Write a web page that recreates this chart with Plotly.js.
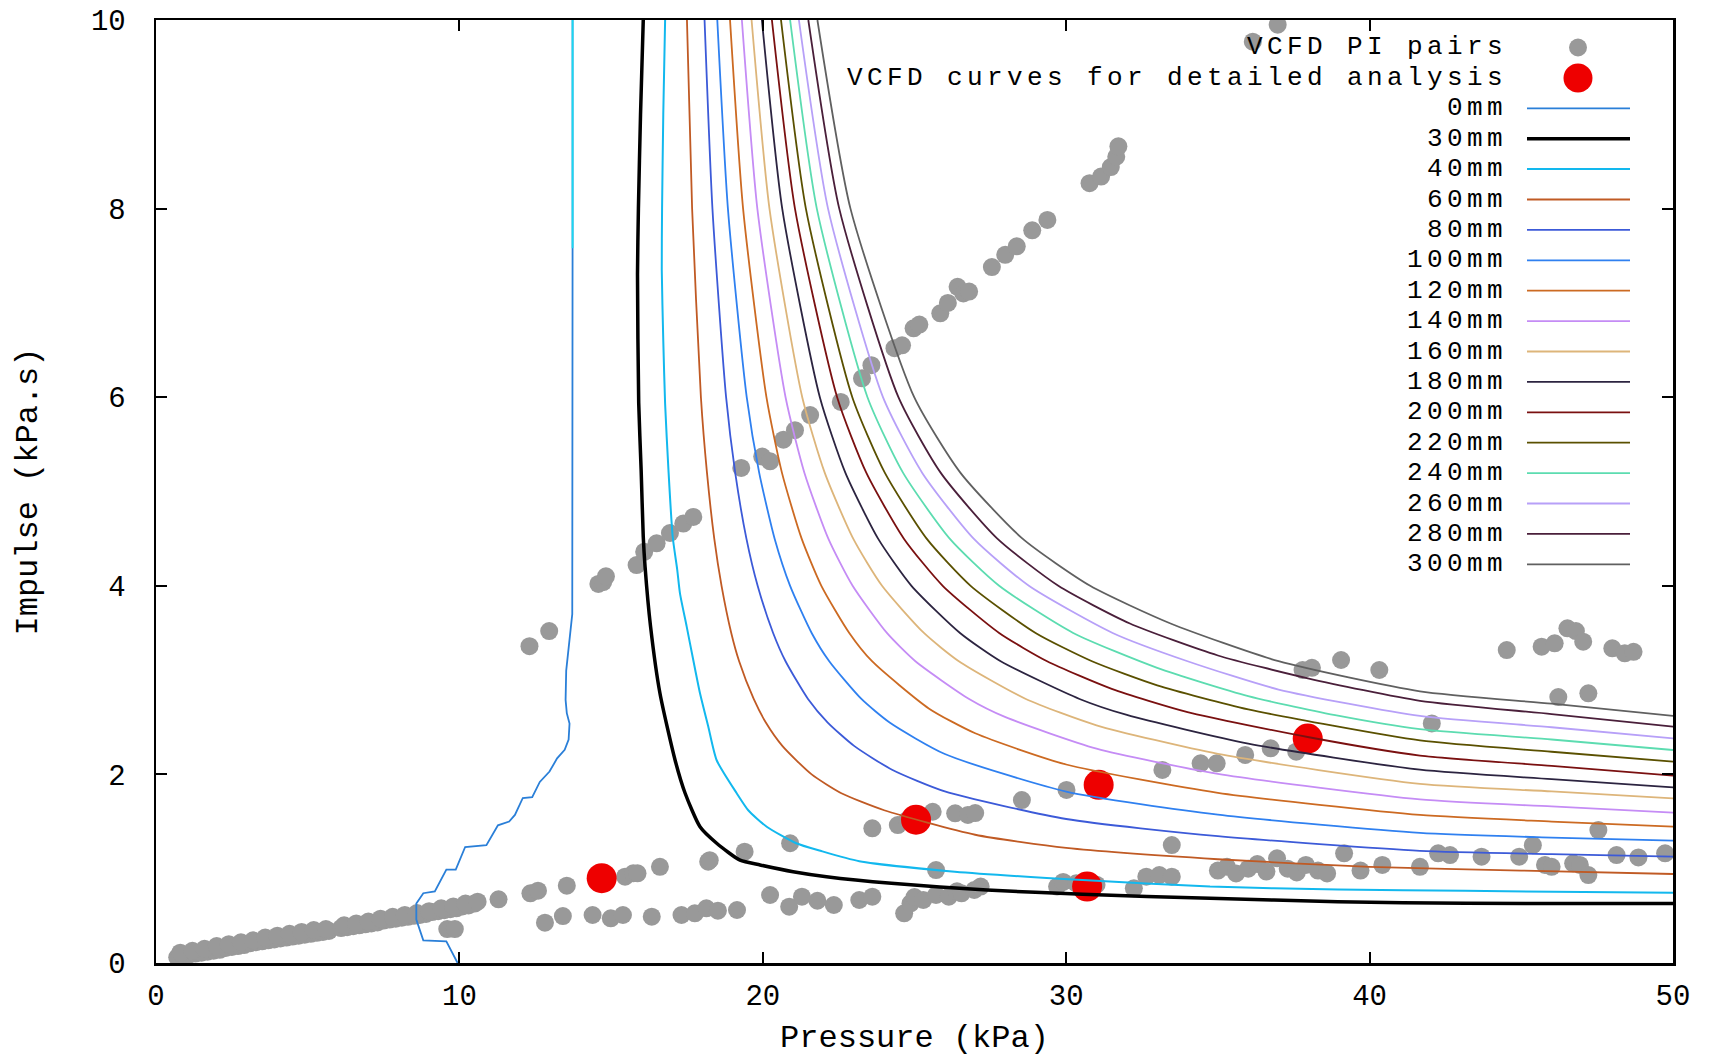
<!DOCTYPE html>
<html>
<head>
<meta charset="utf-8">
<script src="https://cdn.plot.ly/plotly-3.0.1.min.js"></script>
<style>
  html, body { margin: 0; padding: 0; background: #ffffff; }
  #chart { width: 1712px; height: 1057px; }
  .annotation-text { letter-spacing: 4.4px; }
</style>
</head>
<body>
<div id="chart"></div>
<script>
// ---------------- DATA ----------------
// VCFD PI pairs (grey points): pressure (kPa) and impulse (kPa.s)
const PI_PRESSURE = [
  0.7,0.9,1.1,1.3,1.5,1.7,1.9,2.1,2.3,2.5,2.7,2.9,3.1,3.3,3.5,3.7,3.9,4.1,4.3,4.5,4.7,4.9,5.1,5.3,5.5,5.7,
  0.8,1.2,1.6,2.0,2.4,2.8,3.2,3.6,4.0,4.4,4.8,5.2,5.6,
  6.1,6.3,6.5,6.7,6.9,7.1,7.3,7.5,7.7,7.9,8.1,8.3,8.5,8.7,8.9,9.1,9.3,9.5,9.7,9.9,10.1,10.3,10.5,
  6.2,6.6,7.0,7.4,7.8,8.2,8.6,9.0,9.4,9.8,10.2,10.6,
  9.6,9.85,
  11.29,12.34,12.59,13.54,15.46,15.73,15.87,16.61,18.20,18.25,19.40,20.90,
  12.82,13.41,14.39,14.99,15.39,16.34,17.32,17.76,18.14,18.52,19.15,20.24,20.87,21.29,21.8,22.34,23.18,23.61,
  24.66,24.87,25.0,25.29,25.71,26.13,26.4,26.55,26.97,27.18,
  29.70,29.9,30.33,31.0,32.23,32.64,33.07,33.48,33.48,
  25.71,23.61,24.45,24.76,25.6,26.34,26.76,27.0,28.54,30.01,33.17,34.43,34.96,35.9,36.74,37.58,42.05,
  37.79,38.10,39.06,40.32,44.52,45.67,46.1,46.52,46.8,47.04,48.0,48.41,48.7,46.22,47.21,
  35.0,35.3,35.6,36.0,36.3,36.6,36.95,37.3,37.6,37.9,38.3,38.6,39.16,39.7,40.42,41.66,42.26,42.65,43.69,44.93,45.38,45.78,46.0,46.71,46.93,47.21,47.54,48.14,48.86,49.74,
  36.97,36.15,
  12.31,12.96,14.58,14.74,14.83,15.84,16.09,16.50,16.94,17.38,17.71,
  19.29,19.98,20.24,20.68,21.06,21.56,22.57,23.27,23.58,24.34,24.59,24.97,25.16,25.85,26.10,26.42,26.61,26.80,
  27.55,27.99,28.37,28.88,29.38,30.77,31.15,31.47,31.65,31.72
];
const PI_IMPULSE = [
  0.06,0.08,0.09,0.10,0.11,0.12,0.13,0.14,0.16,0.17,0.18,0.19,0.21,0.22,0.23,0.24,0.25,0.26,0.27,0.28,0.29,0.30,0.31,0.32,0.33,0.34,
  0.11,0.13,0.15,0.18,0.20,0.22,0.24,0.27,0.29,0.31,0.33,0.35,0.36,
  0.37,0.38,0.39,0.40,0.41,0.42,0.43,0.45,0.46,0.47,0.48,0.49,0.50,0.51,0.52,0.54,0.55,0.56,0.57,0.58,0.60,0.61,0.63,
  0.40,0.42,0.44,0.47,0.49,0.51,0.53,0.55,0.58,0.60,0.63,0.65,
  0.36,0.36,
  0.675,0.739,0.767,0.82,0.915,0.951,0.951,1.02,1.074,1.09,1.18,1.27,
  0.427,0.498,0.509,0.474,0.509,0.491,0.509,0.527,0.58,0.555,0.562,0.721,0.597,0.703,0.66,0.615,0.668,0.703,
  0.527,0.633,0.70,0.668,0.721,0.703,0.76,0.739,0.774,0.81,
  0.81,0.86,0.845,0.83,0.792,0.915,0.933,0.915,1.251,
  0.986,1.428,1.463,1.516,1.604,1.587,1.57,1.59,1.728,1.835,2.047,2.118,2.118,2.206,2.277,2.241,2.54,
  3.107,3.13,3.213,3.107,3.319,3.354,3.39,3.549,3.52,3.407,3.337,3.284,3.30,2.82,2.86,
  0.98,1.02,0.95,1.0,1.05,0.97,1.11,1.0,0.96,1.04,0.98,0.95,1.163,0.98,1.04,1.02,1.163,1.145,1.127,1.127,1.25,1.04,1.02,1.057,1.04,0.933,1.41,1.145,1.12,1.163,
  9.95,9.77,
  3.36,3.52,4.02,4.04,4.10,4.22,4.36,4.45,4.56,4.66,4.73,
  5.25,5.37,5.32,5.55,5.65,5.81,5.95,6.20,6.34,6.52,6.55,6.73,6.77,6.89,7.00,7.17,7.10,7.12,
  7.38,7.51,7.60,7.77,7.88,8.27,8.34,8.44,8.55,8.66
];

// VCFD curves for detailed analysis (red points)
const DETAIL_PRESSURE = [14.69, 25.05, 30.69, 31.07, 37.96];
const DETAIL_IMPULSE  = [0.90, 1.52, 0.81, 1.89, 2.38];

// Legend labels
const SERIES_LABELS = ['VCFD PI pairs', 'VCFD curves for detailed analysis'];
const CURVE_LABELS = ['0mm','30mm','40mm','60mm','80mm','100mm','120mm','140mm','160mm',
                      '180mm','200mm','220mm','240mm','260mm','280mm','300mm'];

// Pressure-impulse curves
const P_0MM = [9.94,9.57,8.81,8.58,8.58,8.81,9.19,9.44,9.57,9.88,10.19,10.89,11.27,11.64,11.83,12.09,12.40,12.65,12.97,13.22,13.47,13.60,13.63,13.54,13.50,13.52,13.62,13.72,13.73,13.73];
const I_0MM = [0.0,0.23,0.24,0.46,0.63,0.74,0.76,0.92,0.99,0.99,1.23,1.25,1.46,1.50,1.57,1.75,1.76,1.92,2.03,2.17,2.26,2.37,2.54,2.65,2.79,3.1,3.4,3.7,7.58,10];

const P_30MM = [16.06,15.97,15.90,15.87,15.91,15.99,16.06,16.12,16.30,16.61,17.11,17.44,17.93,18.48,19.25,19.91,21.0,22.1,24.24,27.39,30.54,34.74,38.95,43.16,50];
const I_30MM = [10,9,8,7.3,5.94,5.23,4.52,4.2,3.57,2.86,2.15,1.80,1.445,1.27,1.09,1.04,0.968,0.915,0.845,0.774,0.728,0.686,0.650,0.633,0.63];

const P_40MM = [16.78,16.72,16.68,16.67,16.72,16.78,16.89,17.03,17.18,17.27,17.49,17.71,17.93,18.20,18.48,19.14,19.52,20.13,21.1,21.9,23.18,26.33,30.54,34.74,38.95,43.15,50];
const I_40MM = [10,9,8,7.35,6.6,5.93,5.23,4.52,4.17,3.92,3.57,3.21,2.86,2.51,2.15,1.80,1.62,1.445,1.27,1.19,1.08,0.968,0.88,0.81,0.78,0.765,0.745];

const P_60MM = [17.50,17.67,17.96,18.16,18.40,18.64,18.96,19.22,19.70,20.10,20.65,21.61,22.59,24,27,30,35,40,45,50];
const I_60MM = [10,8,6,5.2,4.5,4.0,3.5,3.2,2.8,2.55,2.3,2.0,1.80,1.62,1.36,1.22,1.10,1.02,0.98,0.944];

const P_80MM = [18.08,18.34,18.79,19.09,19.46,19.83,20.34,20.75,21.49,22.14,23.02,24.26,26,30,35,41.66,46,50];
const I_80MM = [10,8,6,5.2,4.5,4.0,3.5,3.2,2.8,2.55,2.3,2.05,1.82,1.527,1.345,1.19,1.155,1.127];

const P_100MM = [18.50,18.85,19.47,19.88,20.39,20.90,21.61,22.19,23.25,24.18,26,30,35,41.66,46,50];
const I_100MM = [10,8,6,5.2,4.5,4.0,3.5,3.2,2.8,2.55,2.216,1.818,1.573,1.38,1.33,1.297];

const P_120MM = [18.92,19.35,20.12,20.63,21.28,21.93,22.85,23.60,25.47,27,30,35,41.66,46,50];
const I_120MM = [10,8,6,5.2,4.5,4.0,3.5,3.2,2.7,2.436,2.105,1.805,1.57,1.50,1.446];

const P_140MM = [19.31,19.82,20.75,21.37,22.16,22.96,24.09,25.03,26.80,28,31,35,41.66,46,50];
const I_140MM = [10,8,6,5.2,4.5,4.0,3.5,3.2,2.8,2.607,2.273,2.006,1.735,1.66,1.594];

const P_160MM = [19.63,20.22,21.30,22.04,22.98,23.93,25.31,26.46,28.67,31,35,41.66,46,50];
const I_160MM = [10,8,6,5.2,4.5,4.0,3.5,3.2,2.8,2.521,2.217,1.90,1.82,1.746];

const P_180MM = [19.97,20.64,21.88,22.72,23.80,24.90,26.50,27.84,30.44,32,36,41.66,46,50];
const I_180MM = [10,8,6,5.2,4.5,4.0,3.5,3.2,2.8,2.63,2.326,2.05,1.95,1.863];

const P_200MM = [20.30,21.06,22.45,23.41,24.65,25.93,27.79,29.37,31.5,34,38,41.66,46,50];
const I_200MM = [10,8,6,5.2,4.5,4.0,3.5,3.2,2.907,2.661,2.394,2.20,2.09,1.986];

const P_220MM = [20.60,21.42,22.95,24.02,25.40,26.85,28.99,30.85,33,36,41.66,46,50];
const I_220MM = [10,8,6,5.2,4.5,4.0,3.5,3.2,2.945,2.69,2.36,2.24,2.135];

const P_240MM = [20.90,21.78,23.45,24.62,26.16,27.79,30.23,33,36,39,41.66,46,50];
const I_240MM = [10,8,6,5.2,4.5,4.0,3.5,3.13,2.83,2.62,2.48,2.37,2.259];

const P_260MM = [21.19,22.15,23.96,25.25,26.95,28.77,31.53,34,37,41.66,46,50];
const I_260MM = [10,8,6,5.2,4.5,4.0,3.5,3.20,2.90,2.62,2.50,2.383];

const P_280MM = [21.50,22.52,24.47,25.86,27.73,29.74,32.10,35,38,41.66,46,50];
const I_280MM = [10,8,6,5.2,4.5,4.0,3.6,3.261,3.016,2.78,2.64,2.506];

const P_300MM = [21.80,22.89,24.99,26.51,28.56,30.79,33.44,37,41.66,46,50];
const I_300MM = [10,8,6,5.2,4.5,4.0,3.6,3.20,2.88,2.75,2.62];

const AXIS_X_TICKS = [0, 10, 20, 30, 40, 50];
const AXIS_Y_TICKS = [0, 2, 4, 6, 8, 10];

// ---------------- STYLE ----------------
const FONT = 'Liberation Mono, Courier New, monospace';
const CURVE_COLORS = ['#2a7fd8','#000000','#12b8ee','#c05a24','#3c5ad8','#2f80f0','#cc6a22','#c58cf5',
                      '#ddb57a','#2c2440','#7a1010','#5a5000','#5cdcb0','#b7a0f8','#4a1f3a','#606060'];
const CURVE_WIDTHS = [1.8,3.5,2,1.8,1.8,1.8,1.8,1.8,1.8,1.8,1.8,1.8,1.8,1.8,1.8,1.8];
const GREY = '#999999';
const RED = '#ee0000';

const CURVES = [
  [P_0MM, I_0MM],[P_30MM, I_30MM],[P_40MM, I_40MM],[P_60MM, I_60MM],[P_80MM, I_80MM],
  [P_100MM, I_100MM],[P_120MM, I_120MM],[P_140MM, I_140MM],[P_160MM, I_160MM],[P_180MM, I_180MM],
  [P_200MM, I_200MM],[P_220MM, I_220MM],[P_240MM, I_240MM],[P_260MM, I_260MM],[P_280MM, I_280MM],
  [P_300MM, I_300MM]
];

const traces = [];
traces.push({
  type: 'scatter', mode: 'markers', name: SERIES_LABELS[0],
  x: PI_PRESSURE, y: PI_IMPULSE,
  marker: { color: GREY, size: 18, line: { width: 0 } },
  showlegend: false, hoverinfo: 'skip'
});
traces.push({
  type: 'scatter', mode: 'markers', name: SERIES_LABELS[1],
  x: DETAIL_PRESSURE, y: DETAIL_IMPULSE,
  marker: { color: RED, size: 30, line: { width: 0 } },
  showlegend: false, hoverinfo: 'skip'
});
CURVES.forEach((c, i) => {
  traces.push({
    type: 'scatter', mode: 'lines', name: CURVE_LABELS[i],
    x: c[0], y: c[1],
    line: { color: CURVE_COLORS[i], width: CURVE_WIDTHS[i],
            shape: i === 0 ? 'linear' : 'spline', smoothing: 0.6 },
    showlegend: false, hoverinfo: 'skip'
  });
});
// upper part of the 0mm line appears cyan in the reference
traces.push({
  type: 'scatter', mode: 'lines', name: CURVE_LABELS[0],
  x: P_0MM.slice(-2), y: I_0MM.slice(-2),
  line: { color: '#19d9f0', width: 1.8 },
  showlegend: false, hoverinfo: 'skip'
});

// ---------------- LEGEND (gnuplot style: text right, sample on the right) ----------------
const L = 156, T = 20, W = 1517, H = 943;
function px2x(px) { return (px - L) / W; }
function py2y(py) { return (T + H - py) / H; }
const ROW0 = 47.5, ROWSTEP = 30.4;
const TEXT_RIGHT = px2x(1508), SAMPLE_X0 = px2x(1527), SAMPLE_X1 = px2x(1630), MARK_X = px2x(1578);

const allLabels = SERIES_LABELS.concat(CURVE_LABELS);
const annotations = allLabels.map((lab, i) => ({
  xref: 'paper', yref: 'paper', x: TEXT_RIGHT, y: py2y(ROW0 + ROWSTEP * i),
  xanchor: 'right', yanchor: 'middle', showarrow: false, text: lab, borderpad: 0,
  font: { family: FONT, size: 26, color: '#000000' }
}));
const shapes = [];
shapes.push({ type: 'circle', xref: 'paper', yref: 'paper', xsizemode: 'pixel', ysizemode: 'pixel',
  xanchor: MARK_X, yanchor: py2y(ROW0), x0: -9, x1: 9, y0: -9, y1: 9,
  fillcolor: GREY, line: { width: 0 } });
shapes.push({ type: 'circle', xref: 'paper', yref: 'paper', xsizemode: 'pixel', ysizemode: 'pixel',
  xanchor: MARK_X, yanchor: py2y(ROW0 + ROWSTEP), x0: -14.5, x1: 14.5, y0: -14.5, y1: 14.5,
  fillcolor: RED, line: { width: 0 } });
CURVE_LABELS.forEach((lab, i) => {
  const yy = py2y(ROW0 + ROWSTEP * (i + 2));
  shapes.push({ type: 'line', xref: 'paper', yref: 'paper', x0: SAMPLE_X0, x1: SAMPLE_X1, y0: yy, y1: yy,
    line: { color: CURVE_COLORS[i], width: CURVE_WIDTHS[i] } });
});

const axisCommon = {
  showline: true, linecolor: '#000000', linewidth: 2.5, mirror: 'ticks',
  ticks: 'inside', ticklen: 11, tickwidth: 2, tickcolor: '#000000',
  showgrid: false, zeroline: false, fixedrange: true,
  tickfont: { family: FONT, size: 29, color: '#000000' }
};

const layout = {
  width: 1712, height: 1057,
  margin: { l: L, r: 1712 - L - W, t: T, b: 1057 - T - H, pad: 0 },
  paper_bgcolor: '#ffffff', plot_bgcolor: '#ffffff',
  showlegend: false,
  font: { family: FONT, color: '#000000' },
  xaxis: Object.assign({}, axisCommon, {
    range: [0, 50], tickvals: AXIS_X_TICKS, ticklabelstandoff: 5,
    title: { text: 'Pressure (kPa)', font: { family: FONT, size: 32, color: '#000000' }, standoff: 31 }
  }),
  yaxis: Object.assign({}, axisCommon, {
    range: [0, 10], tickvals: AXIS_Y_TICKS, ticklabelstandoff: 22,
    title: { text: 'Impulse (kPa.s)', font: { family: FONT, size: 32, color: '#000000' }, standoff: 44 }
  }),
  annotations: annotations,
  shapes: shapes
};

Plotly.newPlot('chart', traces, layout, { displayModeBar: false, staticPlot: true });
</script>
</body>
</html>
